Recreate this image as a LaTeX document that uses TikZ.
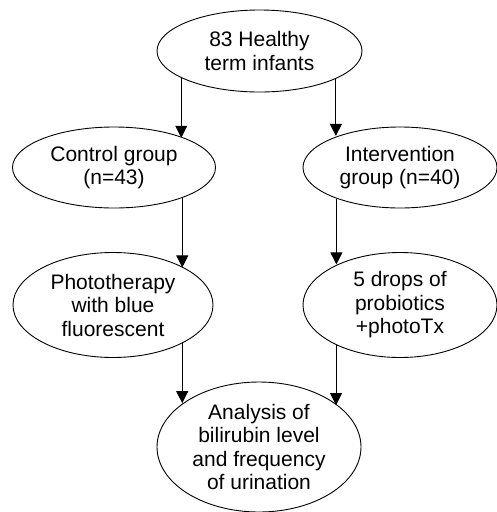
\documentclass[tikz,border=0pt]{standalone}
\usepackage{fontspec}
\setmainfont{Liberation Sans}
\usetikzlibrary{arrows.meta}
\usetikzlibrary{shapes.geometric}

\tikzset{
  bubble/.style={draw, ellipse, inner sep=0pt, align=center,
    font=\fontsize{21}{23.5}\selectfont, line width=0.9pt},
  arr/.style={line width=0.9pt, -{Triangle[length=12pt,width=12pt]}}
}

\begin{document}
\begin{tikzpicture}[x=1pt,y=-1pt]
  \useasboundingbox (0,0) rectangle (497,512);

  % ellipses
  \node[bubble, minimum width=205pt, minimum height=82pt]  (infants)  at (259.5,51)  {83 Healthy\\term infants};
  \node[bubble, minimum width=203pt, minimum height=81pt]  (control)  at (114,167.5) {Control group\\(n=43)};
  \node[bubble, minimum width=194pt, minimum height=81pt]  (interv)   at (400,167.5) {Intervention\\group (n=40)};
  \node[bubble, minimum width=200pt, minimum height=105pt] (photo)    at (113,305)   {Phototherapy\\with blue\\fluorescent};
  \node[bubble, minimum width=194pt, minimum height=105pt] (drops)    at (400,305)   {5 drops of\\probiotics\\+photoTx};
  \node[bubble, minimum width=204pt, minimum height=130pt] (analysis) at (259,447)   {Analysis of\\bilirubin level\\and frequency\\of urination};

  % left column
  \draw[arr] (infants.199.4) -- (infants.199.4 |- control.23.8);
  \draw[arr] (control.336.5) -- (control.336.5 |- photo.28.2);
  \draw[arr] (photo.331.8)   -- (photo.331.8 |- analysis.150.3);
  % right column
  \draw[arr] (infants.340.8) -- (infants.340.8 |- interv.153.9);
  \draw[arr] (interv.206.1)  -- (interv.206.1 |- drops.147.6);
  \draw[arr] (drops.212.4)   -- (drops.212.4 |- analysis.28.2);
\end{tikzpicture}
\end{document}
